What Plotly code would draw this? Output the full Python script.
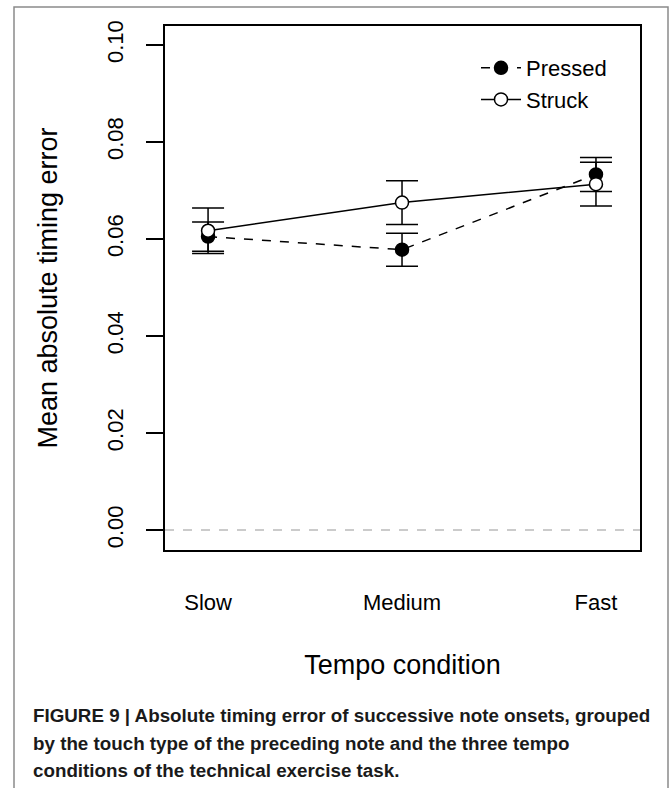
import plotly.graph_objects as go

categories = ["Slow", "Medium", "Fast"]
x_pos = [1, 2, 3]
pressed_mean = [0.0605, 0.0578, 0.0733]
pressed_err = [0.0030, 0.0034, 0.0035]
struck_mean = [0.0617, 0.0675, 0.0713]
struck_err = [0.0047, 0.0045, 0.0045]
y_ticks = [0.00, 0.02, 0.04, 0.06, 0.08, 0.10]
y_tick_labels = ["0.00", "0.02", "0.04", "0.06", "0.08", "0.10"]
caption_lines = [
    "FIGURE 9 | Absolute timing error of successive note onsets, grouped",
    "by the touch type of the preceding note and the three tempo",
    "conditions of the technical exercise task.",
]

W, H = 672, 788
L, R, T, B = 165, 640, 26, 550
FONT = "Liberation Sans, Arial, Helvetica, sans-serif"

def px(xp):
    return (xp - L) / (R - L)

def py(yp):
    return (B - yp) / (B - T)

fig = go.Figure()
fig.add_trace(go.Scatter(
    x=x_pos, y=pressed_mean, name="Pressed", mode="lines+markers",
    line=dict(color="black", width=1.5, dash="dash"),
    marker=dict(symbol="circle", size=13, color="black", line=dict(color="black", width=1.5)),
    error_y=dict(type="data", array=pressed_err, visible=True, color="black", thickness=1.5, width=16),
))
fig.add_trace(go.Scatter(
    x=x_pos, y=struck_mean, name="Struck", mode="lines+markers",
    line=dict(color="black", width=1.5),
    marker=dict(symbol="circle", size=13, color="white", line=dict(color="black", width=1.5)),
    error_y=dict(type="data", array=struck_err, visible=True, color="black", thickness=1.5, width=16),
))

# dashed zero reference line
fig.add_shape(type="line", xref="paper", x0=0, x1=1, yref="y", y0=0, y1=0,
              line=dict(color="#bbbbbb", width=1.5, dash="dash"), layer="below")
# outer figure frame
fig.add_shape(type="rect", xref="paper", yref="paper",
              x0=px(14), x1=px(668), y0=py(820), y1=py(7),
              line=dict(color="#8a8a8a", width=1.5), fillcolor="rgba(0,0,0,0)")

caption_y = [715, 743, 770]
for line_text, yy in zip(caption_lines, caption_y):
    fig.add_annotation(text="<b>" + line_text + "</b>", xref="paper", yref="paper",
                       x=px(31), y=py(yy), xanchor="left", yanchor="middle",
                       showarrow=False, font=dict(family=FONT, size=18.8, color="#1a1a1a"))

fig.update_layout(
    width=W, height=H,
    margin=dict(l=L, r=W - R, t=T, b=H - B, pad=0),
    paper_bgcolor="white", plot_bgcolor="white",
    font=dict(family=FONT, color="black"),
    showlegend=True,
    legend=dict(x=px(476), y=py(47), xanchor="left", yanchor="top",
                font=dict(family=FONT, size=22, color="black"),
                bgcolor="rgba(0,0,0,0)", borderwidth=0, itemwidth=40, tracegroupgap=0),
    xaxis=dict(range=[0.778, 3.227], tickmode="array", tickvals=x_pos, ticktext=categories,
               showgrid=False, zeroline=False, showline=True, linecolor="black", linewidth=1.5,
               mirror=True, ticks="", ticklabelstandoff=32,
               tickfont=dict(family=FONT, size=22, color="black"),
               title=dict(text="Tempo condition", font=dict(family=FONT, size=27, color="black"), standoff=41)),
    yaxis=dict(range=[-0.0041, 0.1039], tickmode="array", tickvals=y_ticks, ticktext=y_tick_labels,
               showgrid=False, zeroline=False, showline=True, linecolor="black", linewidth=1.5,
               mirror=True, ticks="outside", ticklen=17, tickwidth=1.5, tickcolor="black",
               tickangle=-90, ticklabelstandoff=14, tickfont=dict(family=FONT, size=22, color="black"),
               title=dict(text="Mean absolute timing error", font=dict(family=FONT, size=27, color="black"), standoff=38)),
)

fig.write_html("out.html")
